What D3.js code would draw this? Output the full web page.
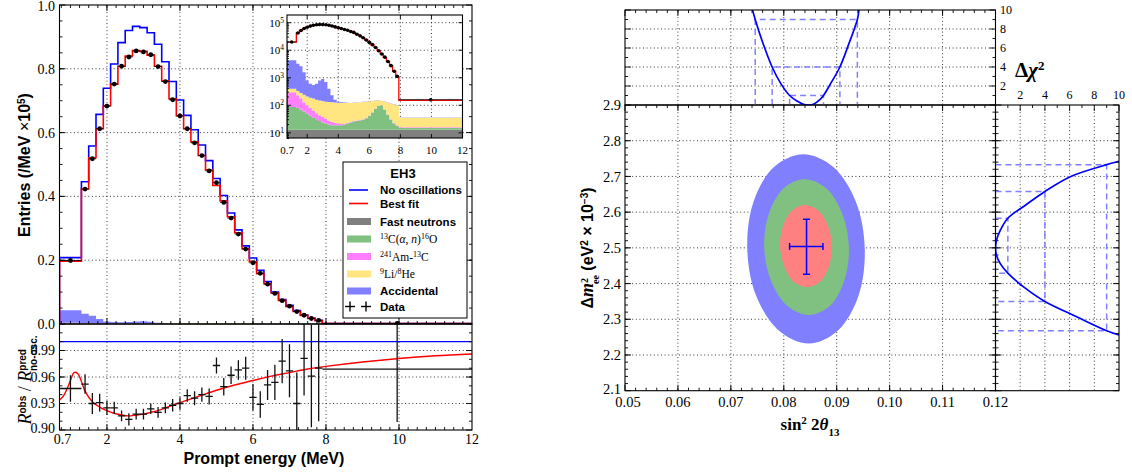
<!DOCTYPE html>
<html>
<head>
<meta charset="utf-8">
<script src="https://cdn.jsdelivr.net/npm/d3@7"></script>
<style>
body { margin: 0; background: #fff; }
svg { display: block; }
</style>
</head>
<body>
<script>
// ---- left figure: EH3 prompt spectrum ----
var binEdges = [0.7, 1.3, 1.5, 1.7, 1.9, 2.1, 2.3, 2.5, 2.7, 2.9, 3.1, 3.3, 3.5, 3.7, 3.9, 4.1, 4.3, 4.5,
    4.7, 4.9, 5.1, 5.3, 5.5, 5.7, 5.9, 6.1, 6.3, 6.5, 6.7, 6.9, 7.1, 7.3, 7.5, 7.7, 7.9, 12];

// entries per MeV, x 10^5
var dataEntries = [0.199, 0.423, 0.518, 0.612, 0.683, 0.752, 0.808, 0.837, 0.856, 0.853, 0.844, 0.807, 0.760,
    0.703, 0.652, 0.612, 0.568, 0.528, 0.480, 0.443, 0.381, 0.332, 0.282, 0.235, 0.192, 0.159, 0.125, 0.096,
    0.073, 0.056, 0.039, 0.0275, 0.0172, 0.0112, 0.0016];
var bestFit = [0.197, 0.423, 0.521, 0.612, 0.684, 0.752, 0.808, 0.840, 0.857, 0.855, 0.843, 0.808, 0.762,
    0.706, 0.653, 0.612, 0.571, 0.528, 0.483, 0.434, 0.386, 0.336, 0.286, 0.236, 0.195, 0.158, 0.126, 0.097,
    0.074, 0.055, 0.039, 0.027, 0.0175, 0.0112, 0.0015];
var noOsc = [0.208, 0.446, 0.558, 0.657, 0.739, 0.815, 0.882, 0.920, 0.933, 0.929, 0.913, 0.877, 0.822,
    0.760, 0.702, 0.654, 0.609, 0.561, 0.512, 0.456, 0.403, 0.348, 0.295, 0.245, 0.207, 0.168, 0.133, 0.100,
    0.077, 0.059, 0.042, 0.028, 0.018, 0.0115, 0.00155];

// backgrounds, entries per MeV
var bgFastN = [13, 13, 13, 13, 13, 13, 13, 13, 13, 13, 13, 13, 13, 13, 13, 13, 13, 13, 13, 13, 13, 13, 13, 13,
    13, 13, 13, 13, 13, 13, 13, 13, 13, 13, 13];
var bgC13 = [74, 67, 57, 47, 37, 29, 23, 18, 14, 11, 9, 7, 6, 6, 6, 6, 7, 9, 11, 13, 14, 15, 17, 21, 29, 42, 62,
    82, 87, 57, 32, 17, 9, 5, 2];
var bgAmC = [213, 150, 110, 70, 50, 38, 29, 21, 17, 14, 11, 8, 6, 4, 3, 2, 2, 1, 1, 1, 1, 1, 1, 1, 1, 1, 1, 1,
    1, 1, 1, 1, 1, 1, 1];
var bgLiHe = [100, 100, 100, 110, 110, 110, 110, 108, 106, 104, 103, 104, 103, 103, 102, 101, 100, 99, 98, 97,
    98, 99, 101, 101, 97, 89, 74, 54, 44, 64, 79, 84, 85, 81, 19];
var bgAcc = [3900, 2870, 2320, 1360, 590, 410, 375, 440, 650, 758, 564, 268, 102, 34, 11, 6, 4, 3, 2, 2, 2, 2,
    2, 2, 2, 2, 2, 2, 2, 2, 2, 2, 2, 2, 1];

// ratio panel
var ratioObs = [0.947, 0.952, 0.930, 0.931, 0.925, 0.925, 0.916, 0.912, 0.918, 0.918, 0.924, 0.920, 0.925,
    0.928, 0.930, 0.939, 0.936, 0.940, 0.938, 0.973, 0.949, 0.962, 0.968, 0.970, 0.937, 0.929, 0.951, 0.954,
    0.978, 0.967, 0.930, 0.981, 0.961, 0.970, 0.969];
var ratioErr = [0.015, 0.011, 0.012, 0.010, 0.008, 0.007, 0.006, 0.007, 0.006, 0.006, 0.006, 0.006, 0.006,
    0.007, 0.007, 0.007, 0.008, 0.008, 0.009, 0.009, 0.010, 0.010, 0.011, 0.013, 0.015, 0.015, 0.017, 0.020,
    0.025, 0.030, 0.035, 0.042, 0.058, 0.060, 0.060];
var fitCurveE = [0.7, 0.8, 0.9, 1.0, 1.1, 1.2, 1.3, 1.4, 1.6, 1.8, 2.0, 2.2, 2.4, 2.6, 2.8, 3.0, 3.2, 3.4, 3.6,
    3.8, 4.0, 4.5, 5.0, 5.5, 6.0, 6.5, 7.0, 7.5, 8.0, 9.0, 10.0, 11.0, 12.0];
var fitCurveR = [0.934, 0.938, 0.946, 0.956, 0.965, 0.964, 0.955, 0.944, 0.932, 0.926, 0.922, 0.919, 0.917,
    0.916, 0.917, 0.918, 0.920, 0.922, 0.925, 0.928, 0.931, 0.938, 0.945, 0.951, 0.956, 0.961, 0.965, 0.969,
    0.972, 0.977, 0.981, 0.984, 0.986];

// ---- right figure: oscillation parameters ----
var contour3s = [[0.0953, 2.497], [0.0936, 2.630], [0.0893, 2.727], [0.0837, 2.762], [0.0782, 2.727],
    [0.0743, 2.630], [0.0731, 2.497], [0.0748, 2.365], [0.0791, 2.268], [0.0847, 2.232], [0.0902, 2.268],
    [0.0941, 2.365]];
var contour2s = [[0.0923, 2.502], [0.0910, 2.597], [0.0880, 2.667], [0.0839, 2.692], [0.0800, 2.667],
    [0.0772, 2.597], [0.0763, 2.502], [0.0776, 2.407], [0.0807, 2.337], [0.0847, 2.312], [0.0887, 2.337],
    [0.0914, 2.407]];
var contour1s = [[0.0891, 2.505], [0.0883, 2.563], [0.0865, 2.605], [0.0840, 2.620], [0.0816, 2.605],
    [0.0799, 2.563], [0.0793, 2.505], [0.0801, 2.448], [0.0819, 2.405], [0.0844, 2.390], [0.0868, 2.405],
    [0.0885, 2.448]];
var bestPoint = [0.0843, 2.504];
var bestSinRange = [0.0811, 0.0874];
var bestDmRange = [2.426, 2.580];

var sinChi2 = [[0.0741, 10], [0.0746, 9], [0.0760, 6.6], [0.0778, 4], [0.0795, 2.2], [0.0811, 1],
    [0.0825, 0.42], [0.0837, 0.08], [0.0847, 0], [0.0857, 0.1], [0.0866, 0.45], [0.0875, 1], [0.0890, 2.4],
    [0.0906, 4], [0.0922, 6.3], [0.0939, 9], [0.0942, 10]];
var dmChi2 = [[2.742, 10], [2.733, 9], [2.700, 6.1], [2.658, 4], [2.620, 2.45], [2.583, 1], [2.550, 0.4],
    [2.520, 0.07], [2.500, 0], [2.480, 0.07], [2.455, 0.4], [2.429, 1], [2.390, 2.3], [2.350, 4], [2.310, 6.4],
    [2.268, 9], [2.256, 10]];
var chi2Levels = [1, 4, 9];
var sinLo = [0.0811, 0.0778, 0.0746];
var sinHi = [0.0875, 0.0906, 0.0939];
var dmLo = [2.429, 2.350, 2.268];
var dmHi = [2.583, 2.658, 2.733];

var mainYTicks = [0, 0.2, 0.4, 0.6, 0.8, 1.0];
var ratioYTicks = [0.90, 0.93, 0.96, 0.99];
var energyTicks = [0.7, 2, 4, 6, 8, 10, 12];
var sinTicks = [0.05, 0.06, 0.07, 0.08, 0.09, 0.10, 0.11, 0.12];
var dmTicks = [2.1, 2.2, 2.3, 2.4, 2.5, 2.6, 2.7, 2.8, 2.9];
var chi2Ticks = [2, 4, 6, 8, 10];

var serif = "'Liberation Serif', 'DejaVu Serif', serif";
var sans = "'Liberation Sans', Arial, sans-serif";

var svg = d3.select("body").append("svg").attr("width", 1132).attr("height", 476);
var defs = svg.append("defs");

function clip(id, x, y, w, h) {
    defs.append("clipPath").attr("id", id).append("rect")
        .attr("x", x).attr("y", y).attr("width", w).attr("height", h);
    return "url(#" + id + ")";
}

// inward tick marks
function tickMarks(g, sc, vals, orient, pos, len) {
    var horiz = orient == "bottom" || orient == "top";
    var sign = (orient == "bottom" || orient == "right") ? -1 : 1;
    g.selectAll(null).data(vals).enter().append("line")
        .attr("x1", function (d) { return horiz ? sc(d) : pos; })
        .attr("x2", function (d) { return horiz ? sc(d) : pos + sign * len; })
        .attr("y1", function (d) { return horiz ? pos : sc(d); })
        .attr("y2", function (d) { return horiz ? pos + sign * len : sc(d); })
        .attr("stroke", "#000").attr("stroke-width", 0.9);
}

function grid(g, sc, vals, vertical, a, b) {
    g.selectAll(null).data(vals).enter().append("line")
        .attr("x1", function (d) { return vertical ? sc(d) : a; })
        .attr("x2", function (d) { return vertical ? sc(d) : b; })
        .attr("y1", function (d) { return vertical ? a : sc(d); })
        .attr("y2", function (d) { return vertical ? b : sc(d); })
        .attr("stroke", "#222").attr("stroke-width", 0.9).attr("stroke-dasharray", "1,2.6");
}

function frame(g, x0, y0, x1, y1) {
    g.append("rect").attr("x", x0).attr("y", y0).attr("width", x1 - x0).attr("height", y1 - y0)
        .attr("fill", "none").attr("stroke", "#000").attr("stroke-width", 1.1);
}

// text made of tspans (sup / sub, italic, fonts)
function rich(t, parts) {
    parts.forEach(function (p) {
        var s = t.append("tspan").text(p.t);
        if (p.f) s.style("font-family", p.f);
        if (p.s) s.style("font-size", p.s + "px");
        if (p.w) s.style("font-weight", p.w);
        if (p.i) s.style("font-style", "italic");
        if (p.b) s.attr("baseline-shift", p.b);
        if (p.dx) s.attr("dx", p.dx);
    });
    return t;
}

var xE = d3.scaleLinear().domain([0.7, 12]).range([59.5, 472]);
var yM = d3.scaleLinear().domain([0, 1]).range([324, 5]);
var yR = d3.scaleLinear().domain([0.90, 1.02]).range([430, 324]);
var xI = d3.scaleLinear().domain([0.7, 12]).range([287, 462.5]);
var yI = d3.scaleLog().domain([6.5, 1.9e5]).range([138, 15]).clamp(true);

var nBins = dataEntries.length;
var centers = binEdges.slice(0, -1).map(function (e, i) { return (e + binEdges[i + 1]) / 2; });

function stepPoints(vals, scale) {
    var p = [[binEdges[0], 0]];
    vals.forEach(function (v, i) { p.push([binEdges[i], v * scale]); });
    p.push([binEdges[vals.length], vals[vals.length - 1] * scale]);
    return p;
}

var rows = centers.map(function (c, i) {
    return { fast: bgFastN[i], c13: bgC13[i], amc: bgAmC[i], lihe: bgLiHe[i], acc: bgAcc[i] };
});
var bgKeys = ["fast", "c13", "amc", "lihe", "acc"];
var bgColors = { fast: "#808080", c13: "#80c080", amc: "#ff80ff", lihe: "#ffe680", acc: "#8080ff" };
var layers = d3.stack().keys(bgKeys)(rows).map(function (layer) {
    var pts = layer.map(function (d, i) { return { e: binEdges[i], lo: d[0], hi: d[1] }; });
    var last = pts[pts.length - 1];
    pts.push({ e: binEdges[nBins], lo: last.lo, hi: last.hi });
    return { key: layer.key, pts: pts };
});

// ---------- main spectrum panel ----------
var gMain = svg.append("g");
grid(gMain, xE, [2, 4, 6, 8, 10], true, 5, 324);
grid(gMain, yM, [0.2, 0.4, 0.6, 0.8], false, 59.5, 472);

var gMainData = gMain.append("g").attr("clip-path", clip("cMain", 59.5, 5, 412.5, 319.5));
var areaMain = d3.area().curve(d3.curveStepAfter)
    .x(function (d) { return xE(d.e); })
    .y0(function (d) { return yM(d.lo / 1e5); })
    .y1(function (d) { return yM(d.hi / 1e5); });
gMainData.selectAll(".bg").data(layers).enter().append("path")
    .attr("d", function (d) { return areaMain(d.pts); })
    .attr("fill", function (d) { return bgColors[d.key]; });

var stepMain = d3.line().curve(d3.curveStepAfter)
    .x(function (d) { return xE(d[0]); }).y(function (d) { return yM(d[1]); });
gMainData.append("path").attr("d", stepMain(stepPoints(noOsc, 1)))
    .attr("fill", "none").attr("stroke", "#0000ff").attr("stroke-width", 1.6);
gMainData.append("path").attr("d", stepMain(stepPoints(bestFit, 1)))
    .attr("fill", "none").attr("stroke", "#ff0000").attr("stroke-width", 1.6);
gMainData.selectAll(".xbar").data(dataEntries).enter().append("line")
    .attr("x1", function (d, i) { return xE(binEdges[i]); })
    .attr("x2", function (d, i) { return xE(binEdges[i + 1]); })
    .attr("y1", function (d) { return yM(d); }).attr("y2", function (d) { return yM(d); })
    .attr("stroke", "#000").attr("stroke-width", 0.8);
gMainData.selectAll(".dot").data(dataEntries).enter().append("circle")
    .attr("cx", function (d, i) { return xE(centers[i]); })
    .attr("cy", function (d) { return yM(d); })
    .attr("r", 2.4).attr("fill", "#000");

tickMarks(gMain, xE, d3.range(0.75, 12, 0.25), "bottom", 324, 3);
tickMarks(gMain, xE, [2, 4, 6, 8, 10], "bottom", 324, 6);
tickMarks(gMain, xE, d3.range(0.75, 12, 0.25), "top", 5, 3);
tickMarks(gMain, xE, [2, 4, 6, 8, 10], "top", 5, 6);
tickMarks(gMain, yM, d3.range(0.05, 1, 0.05), "left", 59.5, 3);
tickMarks(gMain, yM, mainYTicks, "left", 59.5, 6);
tickMarks(gMain, yM, d3.range(0.05, 1, 0.05), "right", 472, 3);
tickMarks(gMain, yM, mainYTicks, "right", 472, 6);
frame(gMain, 59.5, 5, 472, 324);

gMain.selectAll(".ylab").data(mainYTicks).enter().append("text")
    .attr("x", 55).attr("y", function (d) { return Math.max(yM(d), 6.5); }).attr("dy", "0.35em")
    .attr("text-anchor", "end").style("font-family", serif).style("font-size", "14px")
    .text(function (d) { return d.toFixed(1); });

rich(svg.append("text")
    .attr("transform", "translate(30,165) rotate(-90)").attr("text-anchor", "middle")
    .style("font-family", sans).style("font-weight", "bold").style("font-size", "16px"),
    [{ t: "Entries (/MeV " }, { t: "\u00d7", w: "normal" }, { t: "10" }, { t: "5", s: 10, b: "super" }, { t: ")" }]);

// ---------- inset ----------
var gIn = svg.append("g");
gIn.append("rect").attr("x", 287).attr("y", 15).attr("width", 175.5).attr("height", 123).attr("fill", "#fff");
grid(gIn, xI, [2, 4, 6, 8, 10], true, 15, 138);
grid(gIn, yI, [1e1, 1e2, 1e3, 1e4, 1e5], false, 287, 462.5);
var gInData = gIn.append("g").attr("clip-path", clip("cIn", 287, 15, 175.5, 123));
var areaIn = d3.area().curve(d3.curveStepAfter)
    .x(function (d) { return xI(d.e); })
    .y0(function (d) { return yI(Math.max(d.lo, 6.5)); })
    .y1(function (d) { return yI(d.hi); });
gInData.selectAll(".bg").data(layers).enter().append("path")
    .attr("d", function (d) { return areaIn(d.pts); })
    .attr("fill", function (d) { return bgColors[d.key]; });
var stepIn = d3.line().curve(d3.curveStepAfter)
    .x(function (d) { return xI(d[0]); }).y(function (d) { return yI(Math.max(d[1], 6.5)); });
gInData.append("path").attr("d", stepIn(stepPoints(bestFit, 1e5)))
    .attr("fill", "none").attr("stroke", "#ff0000").attr("stroke-width", 1.3);
gInData.selectAll(".xbar").data(dataEntries).enter().append("line")
    .attr("x1", function (d, i) { return xI(binEdges[i]); })
    .attr("x2", function (d, i) { return xI(binEdges[i + 1]); })
    .attr("y1", function (d) { return yI(d * 1e5); }).attr("y2", function (d) { return yI(d * 1e5); })
    .attr("stroke", "#000").attr("stroke-width", 0.8);
gInData.selectAll(".dot").data(dataEntries).enter().append("circle")
    .attr("cx", function (d, i) { return xI(centers[i]); })
    .attr("cy", function (d) { return yI(d * 1e5); })
    .attr("r", 1.8).attr("fill", "#000");
var logMinor = [];
[1, 10, 100, 1000, 10000].forEach(function (dec) {
    [2, 3, 4, 5, 6, 7, 8, 9].forEach(function (m) { if (dec * m < 1.9e5) logMinor.push(dec * m); });
});
tickMarks(gIn, yI, [1e1, 1e2, 1e3, 1e4, 1e5], "left", 287, 4);
tickMarks(gIn, yI, logMinor, "left", 287, 2);
tickMarks(gIn, yI, [1e1, 1e2, 1e3, 1e4, 1e5], "right", 462.5, 4);
tickMarks(gIn, xI, [2, 4, 6, 8, 10], "bottom", 138, 4);
tickMarks(gIn, xI, [2, 4, 6, 8, 10], "top", 15, 4);
frame(gIn, 287, 15, 462.5, 138);
gIn.selectAll(".xl").data(energyTicks).enter().append("text")
    .attr("x", function (d) { return xI(d); }).attr("y", 154)
    .attr("text-anchor", "middle").style("font-family", serif).style("font-size", "11px")
    .text(function (d) { return d; });
[1, 2, 3, 4, 5].forEach(function (k) {
    rich(gIn.append("text").attr("x", 284).attr("y", yI(Math.pow(10, k))).attr("dy", "0.35em")
        .attr("text-anchor", "end").style("font-family", serif).style("font-size", "11px"),
        [{ t: "10" }, { t: String(k), s: 7.5, b: "super" }]);
});

// ---------- legend ----------
var gLeg = svg.append("g");
gLeg.append("rect").attr("x", 343).attr("y", 162).attr("width", 124).attr("height", 156)
    .attr("fill", "#fff").attr("stroke", "#000").attr("stroke-width", 1);
gLeg.append("text").attr("x", 403).attr("y", 178).attr("text-anchor", "middle")
    .style("font-family", sans).style("font-weight", "bold").style("font-size", "13px").text("EH3");
var legendItems = [
    { kind: "line", color: "#0000ff", parts: [{ t: "No oscillations" }] },
    { kind: "line", color: "#ff0000", parts: [{ t: "Best fit" }] },
    { kind: "patch", color: bgColors.fast, parts: [{ t: "Fast neutrons" }] },
    { kind: "patch", color: bgColors.c13, parts: [{ t: "13", s: 8, b: "super", f: serif, w: "normal" },
        { t: "C(", f: serif, w: "normal" }, { t: "\u03b1", f: serif, w: "normal", i: 1 },
        { t: ", ", f: serif, w: "normal" }, { t: "n", f: serif, w: "normal", i: 1 },
        { t: ")", f: serif, w: "normal" }, { t: "16", s: 8, b: "super", f: serif, w: "normal" },
        { t: "O", f: serif, w: "normal" }] },
    { kind: "patch", color: bgColors.amc, parts: [{ t: "241", s: 8, b: "super", f: serif, w: "normal" },
        { t: "Am-", f: serif, w: "normal" }, { t: "13", s: 8, b: "super", f: serif, w: "normal" },
        { t: "C", f: serif, w: "normal" }] },
    { kind: "patch", color: bgColors.lihe, parts: [{ t: "9", s: 8, b: "super", f: serif, w: "normal" },
        { t: "Li/", f: serif, w: "normal" }, { t: "8", s: 8, b: "super", f: serif, w: "normal" },
        { t: "He", f: serif, w: "normal" }] },
    { kind: "patch", color: bgColors.acc, parts: [{ t: "Accidental" }] },
    { kind: "data", color: "#000", parts: [{ t: "Data" }] }
];
var legendY = [190, 203.5, 221.5, 239, 256.5, 274, 291, 306.5];
legendItems.forEach(function (it, i) {
    var y = legendY[i];
    if (it.kind == "line") {
        gLeg.append("line").attr("x1", 349).attr("x2", 368).attr("y1", y).attr("y2", y)
            .attr("stroke", it.color).attr("stroke-width", 1.6);
    } else if (it.kind == "patch") {
        gLeg.append("rect").attr("x", 347).attr("y", y - 3.5).attr("width", 24).attr("height", 7)
            .attr("fill", it.color);
    } else {
        [350, 366].forEach(function (cx) {
            gLeg.append("line").attr("x1", cx - 5).attr("x2", cx + 5).attr("y1", y).attr("y2", y)
                .attr("stroke", "#000").attr("stroke-width", 1.4);
            gLeg.append("line").attr("x1", cx).attr("x2", cx).attr("y1", y - 5).attr("y2", y + 5)
                .attr("stroke", "#000").attr("stroke-width", 1.4);
        });
    }
    rich(gLeg.append("text").attr("x", 380).attr("y", y).attr("dy", "0.35em")
        .style("font-family", sans).style("font-weight", "bold").style("font-size", "11.5px"), it.parts);
});

// ---------- ratio panel ----------
var gRat = svg.append("g");
grid(gRat, xE, [2, 4, 6, 8, 10], true, 324, 430);
grid(gRat, yR, [0.93, 0.96, 0.99], false, 59.5, 472);
var gRatData = gRat.append("g").attr("clip-path", clip("cRat", 59.5, 324, 412.5, 106));
gRatData.append("line").attr("x1", xE(0.7)).attr("x2", xE(12)).attr("y1", yR(1)).attr("y2", yR(1))
    .attr("stroke", "#0000ff").attr("stroke-width", 1.4);
var fitLine = d3.line().curve(d3.curveCatmullRom)
    .x(function (d, i) { return xE(fitCurveE[i]); }).y(function (d) { return yR(d); });
gRatData.append("path").attr("d", fitLine(fitCurveR))
    .attr("fill", "none").attr("stroke", "#ff0000").attr("stroke-width", 1.4);
gRatData.selectAll(".xe").data(ratioObs).enter().append("line")
    .attr("x1", function (d, i) { return xE(binEdges[i]); })
    .attr("x2", function (d, i) { return xE(binEdges[i + 1]); })
    .attr("y1", function (d) { return yR(d); }).attr("y2", function (d) { return yR(d); })
    .attr("stroke", "#111").attr("stroke-width", 1.3);
gRatData.selectAll(".ye").data(ratioObs).enter().append("line")
    .attr("x1", function (d, i) { return xE(centers[i]); })
    .attr("x2", function (d, i) { return xE(centers[i]); })
    .attr("y1", function (d, i) { return yR(d - ratioErr[i]); })
    .attr("y2", function (d, i) { return yR(d + ratioErr[i]); })
    .attr("stroke", "#111").attr("stroke-width", 1.3);

tickMarks(gRat, xE, d3.range(0.75, 12, 0.25), "bottom", 430, 3);
tickMarks(gRat, xE, [2, 4, 6, 8, 10], "bottom", 430, 6);
tickMarks(gRat, yR, d3.range(0.91, 1.02, 0.01), "left", 59.5, 3);
tickMarks(gRat, yR, ratioYTicks, "left", 59.5, 6);
tickMarks(gRat, yR, d3.range(0.91, 1.02, 0.01), "right", 472, 3);
tickMarks(gRat, yR, ratioYTicks, "right", 472, 6);
frame(gRat, 59.5, 324, 472, 430);
gRat.selectAll(".yl").data(ratioYTicks).enter().append("text")
    .attr("x", 55).attr("y", function (d) { return yR(d) - (d == 0.90 ? 2 : 0); }).attr("dy", "0.35em")
    .attr("text-anchor", "end").style("font-family", serif).style("font-size", "14px")
    .text(function (d) { return d.toFixed(2); });
gRat.selectAll(".xl").data(energyTicks).enter().append("text")
    .attr("x", function (d) { return xE(d) + (d == 0.7 ? 3 : 0); }).attr("y", 444)
    .attr("text-anchor", "middle").style("font-family", serif).style("font-size", "14px")
    .text(function (d) { return d; });
svg.append("text").attr("x", xE(6.3)).attr("y", 464).attr("text-anchor", "middle")
    .style("font-family", sans).style("font-weight", "bold").style("font-size", "16px")
    .text("Prompt energy (MeV)");
rich(svg.append("text")
    .attr("transform", "translate(31,380) rotate(-90)").attr("text-anchor", "middle")
    .style("font-family", serif).style("font-size", "18px"),
    [{ t: "R", i: 1 }, { t: "obs", s: 10, b: "super", f: sans, w: "bold" }, { t: " / " },
        { t: "R", i: 1 }, { t: "pred", s: 10, b: "super", f: sans, w: "bold" },
        { t: "no-osc.", s: 10, b: "sub", f: sans, w: "bold", dx: -22 }]);

// ---------- right figure ----------
var xS = d3.scaleLinear().domain([0.05, 0.12]).range([625, 995.5]);
var yD = d3.scaleLinear().domain([2.1, 2.9]).range([390.7, 105]);
var yC = d3.scaleLinear().domain([0, 10]).range([105, 10]);
var xC = d3.scaleLinear().domain([0, 10]).range([995.5, 1119]);
var dashBlue = "#8080ff";

// contour panel
var gCon = svg.append("g");
grid(gCon, xS, [0.06, 0.07, 0.08, 0.09, 0.10, 0.11], true, 105, 390.7);
grid(gCon, yD, [2.2, 2.3, 2.4, 2.5, 2.6, 2.7, 2.8], false, 625, 995.5);
var contourLine = d3.line().curve(d3.curveCatmullRomClosed)
    .x(function (d) { return xS(d[0]); }).y(function (d) { return yD(d[1]); });
[[contour3s, "#8080ff"], [contour2s, "#80c080"], [contour1s, "#ff8080"]].forEach(function (c) {
    gCon.append("path").attr("d", contourLine(c[0])).attr("fill", c[1]);
});
var cx = xS(bestPoint[0]), cy = yD(bestPoint[1]);
gCon.append("line").attr("x1", xS(bestSinRange[0])).attr("x2", xS(bestSinRange[1]))
    .attr("y1", cy).attr("y2", cy).attr("stroke", "#0000ff").attr("stroke-width", 1.5);
gCon.append("line").attr("x1", cx).attr("x2", cx)
    .attr("y1", yD(bestDmRange[0])).attr("y2", yD(bestDmRange[1])).attr("stroke", "#0000ff").attr("stroke-width", 1.5);
bestSinRange.forEach(function (s) {
    gCon.append("line").attr("x1", xS(s)).attr("x2", xS(s)).attr("y1", cy - 3.5).attr("y2", cy + 3.5)
        .attr("stroke", "#0000ff").attr("stroke-width", 1.5);
});
bestDmRange.forEach(function (m) {
    gCon.append("line").attr("x1", cx - 3.5).attr("x2", cx + 3.5).attr("y1", yD(m)).attr("y2", yD(m))
        .attr("stroke", "#0000ff").attr("stroke-width", 1.5);
});
var sinMinor = d3.range(0.052, 0.12, 0.002);
var dmMinor = d3.range(2.12, 2.9, 0.02);
tickMarks(gCon, xS, sinMinor, "bottom", 390.7, 3);
tickMarks(gCon, xS, sinTicks, "bottom", 390.7, 6);
tickMarks(gCon, xS, sinMinor, "top", 105, 3);
tickMarks(gCon, xS, sinTicks, "top", 105, 6);
tickMarks(gCon, yD, dmMinor, "left", 625, 3);
tickMarks(gCon, yD, dmTicks, "left", 625, 6);
tickMarks(gCon, yD, dmMinor, "right", 995.5, 3);
tickMarks(gCon, yD, dmTicks, "right", 995.5, 6);
tickMarks(gCon, yD, dmMinor, "left", 995.5, 3);
tickMarks(gCon, yD, dmTicks, "left", 995.5, 6);
frame(gCon, 625, 105, 995.5, 390.7);
gCon.selectAll(".xl").data(sinTicks).enter().append("text")
    .attr("x", function (d) { return xS(d) + (d == 0.05 ? 3 : 0); }).attr("y", 407)
    .attr("text-anchor", "middle").style("font-family", serif).style("font-size", "14.5px")
    .text(function (d) { return d.toFixed(2); });
gCon.selectAll(".yl").data(dmTicks).enter().append("text")
    .attr("x", 621).attr("y", function (d) { return yD(d) - (d == 2.1 ? 2 : 0); }).attr("dy", "0.35em")
    .attr("text-anchor", "end").style("font-family", serif).style("font-size", "14.5px")
    .text(function (d) { return d.toFixed(1); });
rich(svg.append("text").attr("x", 810).attr("y", 430).attr("text-anchor", "middle")
    .style("font-family", serif).style("font-weight", "bold").style("font-size", "17px"),
    [{ t: "sin" }, { t: "2", s: 11, b: "super" }, { t: " 2" }, { t: "\u03b8", i: 1 }, { t: "13", s: 11, b: "sub" }]);
rich(svg.append("text")
    .attr("transform", "translate(593,248) rotate(-90)").attr("text-anchor", "middle")
    .style("font-family", sans).style("font-weight", "bold").style("font-size", "16px"),
    [{ t: "\u0394" }, { t: "m", f: serif, i: 1, s: 18 }, { t: "2", s: 10, b: "super", f: serif },
        { t: "ee", s: 10, b: "sub", f: serif, dx: -6 }, { t: " (eV" }, { t: "2", s: 10, b: "super" },
        { t: " \u00d7 10", w: "bold" }, { t: "\u22123", s: 10, b: "super" }, { t: ")" }]);

// top chi2 panel
var gTop = svg.append("g");
grid(gTop, xS, [0.06, 0.07, 0.08, 0.09, 0.10, 0.11], true, 10, 105);
grid(gTop, yC, [2, 4, 6, 8], false, 625, 995.5);
var gTopData = gTop.append("g").attr("clip-path", clip("cTop", 625, 10, 370.5, 95));
chi2Levels.forEach(function (lv, i) {
    gTopData.append("path")
        .attr("d", "M" + xS(sinLo[i]) + "," + yC(0) + "V" + yC(lv) + "H" + xS(sinHi[i]) + "V" + yC(0))
        .attr("fill", "none").attr("stroke", dashBlue).attr("stroke-width", 1.5).attr("stroke-dasharray", "6,4");
});
gTopData.append("path").attr("d", d3.line().curve(d3.curveCatmullRom)
    .x(function (d) { return xS(d[0]); }).y(function (d) { return yC(d[1]); })(sinChi2))
    .attr("fill", "none").attr("stroke", "#0000ff").attr("stroke-width", 1.7);
tickMarks(gTop, xS, sinMinor, "top", 10, 3);
tickMarks(gTop, xS, sinTicks, "top", 10, 6);
tickMarks(gTop, yC, [1, 3, 5, 7, 9], "left", 625, 3);
tickMarks(gTop, yC, chi2Ticks, "left", 625, 6);
tickMarks(gTop, yC, [1, 3, 5, 7, 9], "right", 995.5, 3);
tickMarks(gTop, yC, chi2Ticks, "right", 995.5, 6);
frame(gTop, 625, 10, 995.5, 105);
gTop.selectAll(".yl").data(chi2Ticks).enter().append("text")
    .attr("x", 1000).attr("y", function (d) { return yC(d); }).attr("dy", "0.35em")
    .style("font-family", serif).style("font-size", "12px")
    .text(function (d) { return d; });
rich(svg.append("text").attr("x", 1015).attr("y", 77)
    .style("font-family", serif).style("font-weight", "bold").style("font-size", "21px"),
    [{ t: "\u0394" }, { t: "\u03c7", i: 1 }, { t: "2", s: 13, b: "super" }]);

// right chi2 panel
var gRight = svg.append("g");
grid(gRight, xC, [2, 4, 6, 8], true, 105, 390.7);
grid(gRight, yD, [2.2, 2.3, 2.4, 2.5, 2.6, 2.7, 2.8], false, 995.5, 1119);
var gRightData = gRight.append("g").attr("clip-path", clip("cRight", 995.5, 105, 123.5, 285.7));
chi2Levels.forEach(function (lv, i) {
    gRightData.append("path")
        .attr("d", "M" + xC(0) + "," + yD(dmHi[i]) + "H" + xC(lv) + "V" + yD(dmLo[i]) + "H" + xC(0))
        .attr("fill", "none").attr("stroke", dashBlue).attr("stroke-width", 1.5).attr("stroke-dasharray", "6,4");
});
gRightData.append("path").attr("d", d3.line().curve(d3.curveCatmullRom)
    .x(function (d) { return xC(d[1]); }).y(function (d) { return yD(d[0]); })(dmChi2))
    .attr("fill", "none").attr("stroke", "#0000ff").attr("stroke-width", 1.7);
tickMarks(gRight, yD, dmMinor, "right", 1119, 3);
tickMarks(gRight, yD, dmTicks, "right", 1119, 6);
tickMarks(gRight, xC, [1, 3, 5, 7, 9], "top", 105, 3);
tickMarks(gRight, xC, chi2Ticks, "top", 105, 6);
frame(gRight, 995.5, 105, 1119, 390.7);
gRight.selectAll(".xl").data(chi2Ticks).enter().append("text")
    .attr("x", function (d) { return xC(d); }).attr("y", 99).attr("text-anchor", "middle")
    .style("font-family", serif).style("font-size", "12px")
    .text(function (d) { return d; });
</script>
</body>
</html>
